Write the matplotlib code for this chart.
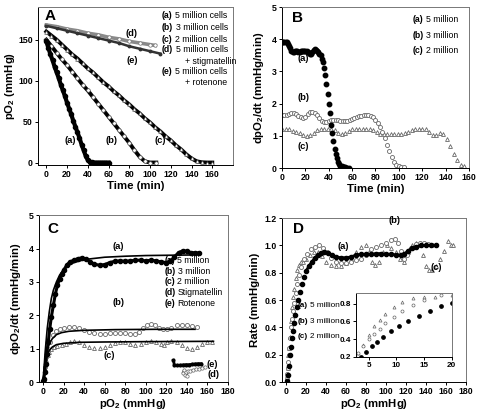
import numpy as np
import matplotlib
matplotlib.use('Agg')
import matplotlib.pyplot as plt

plt.rcParams['font.family'] = ['Liberation Sans', 'DejaVu Sans']
plt.rcParams['mathtext.fontset'] = 'custom'
plt.rcParams['mathtext.rm'] = 'Liberation Sans'
plt.rcParams['mathtext.bf'] = 'Liberation Sans:bold'
plt.rcParams['mathtext.it'] = 'Liberation Sans:italic'

# ---------------- Panel A: pO2 vs time ----------------
tA_a = [0, 2, 4, 6, 8, 10, 12, 14, 16, 18, 20, 22, 24, 26, 28, 30, 32, 34, 36, 38,
        40, 42, 44, 46, 48, 50, 52, 54, 56, 58, 60]
pA_a = [148, 140, 132, 125, 117, 110, 103, 95, 88, 81, 73, 66, 59, 51, 44, 37, 30, 22, 15, 8,
        3, 1, 0.3, 0, 0, 0, 0, 0, 0, 0, 0]
tA_b = [0, 5, 10, 15, 20, 25, 30, 35, 40, 45, 50, 55, 60, 65, 70, 75, 80, 85, 90, 95, 100, 106]
pA_b = [150, 142, 134, 126, 119, 111, 103, 95, 88, 80, 72, 64, 56, 48, 40, 32, 24, 15, 7, 1.5, 0, 0]
tA_c = [0, 5, 10, 15, 20, 25, 30, 35, 40, 45, 50, 55, 60, 65, 70, 75, 80, 85, 90, 95, 100,
        105, 110, 115, 120, 125, 130, 135, 140, 145, 150, 155, 160]
pA_c = [160, 155, 150, 144, 138, 132, 127, 121, 115, 110, 104, 98, 93, 87, 82, 76, 71, 65, 60, 54, 49,
        43, 38, 32, 27, 21, 16, 10, 5, 1.5, 0.3, 0, 0]
tA_d = [0, 10, 20, 30, 40, 50, 60, 70, 80, 90, 100, 105]
pA_d = [168, 166, 163, 161, 158, 156, 153, 151, 148, 146, 144, 143]
tA_e = [0, 10, 20, 30, 40, 50, 60, 70, 80, 90, 100, 110]
pA_e = [167, 164, 161, 158, 155, 152, 149, 146, 142, 139, 136, 133]

# ---------------- Panel B: dpO2/dt vs time ----------------
tB_a = list(range(0, 58))
rB_a = [3.9, 3.9, 3.9, 3.92, 3.9, 3.85, 3.8, 3.72, 3.65, 3.6, 3.6, 3.62, 3.65, 3.63, 3.6, 3.6,
        3.62, 3.65, 3.65, 3.63, 3.62, 3.62, 3.6, 3.57, 3.55, 3.55, 3.6, 3.68, 3.7, 3.68, 3.62,
        3.6, 3.55, 3.5, 3.4, 3.3, 3.1, 2.9, 2.6, 2.3, 2.0, 1.7, 1.35, 1.1, 0.85, 0.6, 0.45,
        0.3, 0.2, 0.13, 0.08, 0.05, 0.03, 0.02, 0.02, 0.01, 0.01, 0.01]
tB_b = list(range(0, 105, 2))
rB_b = [1.65, 1.65, 1.66, 1.68, 1.7, 1.7, 1.68, 1.63, 1.58, 1.55, 1.6, 1.68, 1.73, 1.75, 1.72,
        1.65, 1.55, 1.47, 1.43, 1.43, 1.45, 1.48, 1.5, 1.5, 1.48, 1.46, 1.45, 1.45, 1.47, 1.5,
        1.53, 1.57, 1.6, 1.62, 1.63, 1.64, 1.65, 1.65, 1.63, 1.58, 1.5, 1.4, 1.28, 1.12, 0.92,
        0.72, 0.52, 0.35, 0.2, 0.1, 0.05, 0.03, 0.02]
tB_c = list(range(0, 157, 3))
rB_c = [1.2, 1.22, 1.2, 1.15, 1.12, 1.08, 1.03, 1.0, 1.02, 1.1, 1.18, 1.2, 1.2, 1.2, 1.2, 1.17,
        1.1, 1.05, 1.08, 1.15, 1.2, 1.2, 1.2, 1.2, 1.2, 1.2, 1.18, 1.12, 1.07, 1.05, 1.05, 1.05,
        1.05, 1.05, 1.05, 1.08, 1.12, 1.17, 1.2, 1.22, 1.22, 1.2, 1.12, 1.03, 1.02, 1.08, 1.05,
        0.9, 0.68, 0.45, 0.25, 0.1, 0.05]

# ---------------- Panel C: dpO2/dt vs pO2 ----------------
xC_a = [0.3, 0.8, 1.5, 2.5, 3.5, 5, 6.5, 8, 10, 12, 14, 16, 18, 20, 23, 26, 30, 34, 38, 42, 46,
        50, 55, 60, 65, 70, 75, 80, 85, 90, 95, 100, 105, 110, 115, 120, 124, 128, 132, 136,
        140, 144, 148, 152]
yC_a = [0.02, 0.1, 0.3, 0.55, 0.85, 1.2, 1.6, 1.95, 2.3, 2.65, 2.9, 3.1, 3.25, 3.35, 3.5, 3.6,
        3.65, 3.7, 3.72, 3.68, 3.6, 3.53, 3.5, 3.52, 3.58, 3.62, 3.63, 3.62, 3.63, 3.65, 3.65,
        3.63, 3.65, 3.63, 3.6, 3.58, 3.62, 3.75, 3.88, 3.93, 3.92, 3.88, 3.87, 3.87]
xC_b = [1, 2, 3, 5, 7, 10, 13, 16, 20, 25, 30, 35, 40, 45, 50, 55, 60, 65, 70, 75, 80, 85, 90,
        93, 97, 101, 105, 109, 113, 117, 121, 125, 130, 135, 140, 145, 150]
yC_b = [0.1, 0.45, 0.75, 1.0, 1.2, 1.4, 1.52, 1.6, 1.63, 1.65, 1.65, 1.63, 1.55, 1.5, 1.46, 1.45,
        1.45, 1.47, 1.48, 1.48, 1.46, 1.45, 1.45, 1.5, 1.62, 1.7, 1.75, 1.7, 1.62, 1.6, 1.6,
        1.63, 1.7, 1.72, 1.7, 1.68, 1.66]
xC_c = [1, 2, 3, 4.5, 6, 8, 11, 14, 18, 22, 26, 30, 35, 40, 45, 50, 55, 60, 65, 70, 75, 80, 85,
        90, 95, 100, 105, 110, 115, 118, 121, 125, 130, 135, 140, 145, 150, 155, 160, 165]
yC_c = [0.1, 0.4, 0.65, 0.8, 0.9, 1.0, 1.05, 1.08, 1.1, 1.15, 1.2, 1.22, 1.2, 1.1, 1.05, 1.03,
        1.03, 1.05, 1.1, 1.17, 1.2, 1.2, 1.15, 1.1, 1.15, 1.2, 1.22, 1.2, 1.15, 1.1, 1.2, 1.22,
        1.2, 1.1, 1.02, 1.0, 1.05, 1.15, 1.2, 1.2]
xC_e = [127, 128, 130, 133, 136, 139, 142, 145, 148, 151, 154]
yC_e = [0.65, 0.5, 0.5, 0.5, 0.51, 0.52, 0.52, 0.53, 0.54, 0.55, 0.55]
xC_d = [136, 137, 138, 139, 140, 141, 143, 146, 149, 152, 155, 158]
yC_d = [0.28, 0.35, 0.2, 0.3, 0.18, 0.32, 0.33, 0.36, 0.38, 0.4, 0.42, 0.44]
# fitted curves
fx_a = [0, 2, 4, 6, 8, 10, 13, 16, 20, 25, 30, 40, 60, 80, 100, 125, 152]
fy_a = [0, 0.9, 1.6, 2.1, 2.5, 2.75, 3.0, 3.2, 3.35, 3.5, 3.58, 3.67, 3.74, 3.77, 3.79, 3.8, 3.81]
fx_b = [0, 2, 4, 6, 9, 13, 18, 25, 40, 70, 110, 148]
fy_b = [0, 0.6, 0.95, 1.15, 1.3, 1.42, 1.48, 1.52, 1.55, 1.57, 1.58, 1.58]
fx_c = [0, 2, 4, 6, 9, 13, 20, 35, 60, 100, 166]
fy_c = [0, 0.55, 0.82, 0.95, 1.05, 1.12, 1.16, 1.19, 1.2, 1.21, 1.22]

# ---------------- Panel D: normalised rate vs pO2 ----------------
xD_a = [0.5, 1.5, 2.5, 3.5, 4.5, 5.5, 6.5, 7.5, 9, 10.5, 12, 14, 16, 18, 20, 23, 26, 29, 32, 35,
        38, 42, 46, 50, 55, 60, 65, 70, 75, 80, 85, 90, 95, 100, 105, 110, 115, 118, 122, 126,
        130, 135, 140, 145, 150]
yD_a = [0.01, 0.05, 0.12, 0.2, 0.26, 0.32, 0.37, 0.43, 0.49, 0.55, 0.6, 0.66, 0.72, 0.77, 0.81,
        0.85, 0.88, 0.91, 0.93, 0.945, 0.95, 0.945, 0.93, 0.915, 0.91, 0.91, 0.915, 0.93, 0.935,
        0.935, 0.935, 0.94, 0.94, 0.935, 0.935, 0.93, 0.93, 0.935, 0.96, 0.98, 0.99, 1.0, 1.0,
        1.0, 1.0]
xD_b = [0.5, 1, 1.5, 2, 2.5, 3, 4, 5, 6, 7, 8, 9.5, 11, 13, 15, 18, 21, 25, 29, 33, 37, 41, 45,
        50, 55, 60, 65, 70, 75, 80, 85, 90, 95, 100, 105, 109, 112, 115, 118, 121, 125, 130,
        134, 138, 142, 146, 150]
yD_b = [0.02, 0.06, 0.1, 0.15, 0.2, 0.25, 0.32, 0.4, 0.46, 0.52, 0.58, 0.65, 0.72, 0.78, 0.84,
        0.9, 0.94, 0.97, 0.99, 1.0, 0.98, 0.95, 0.91, 0.88, 0.87, 0.87, 0.88, 0.89, 0.9, 0.93,
        0.97, 0.99, 1.0, 1.02, 1.04, 1.05, 1.02, 0.96, 0.9, 0.93, 0.98, 1.01, 1.02, 1.02, 1.01,
        1.0, 1.0]
xD_c = [0.5, 1, 1.5, 2, 3, 4, 5, 6, 7, 8, 9.5, 11, 13, 15, 17, 20, 24, 28, 32, 36, 40, 45, 50,
        55, 60, 65, 70, 75, 80, 83, 86, 89, 93, 97, 101, 105, 110, 114, 118, 122, 126, 130, 134,
        137, 140, 143, 146, 150, 154, 158, 162, 165, 167]
yD_c = [0.01, 0.05, 0.1, 0.2, 0.25, 0.33, 0.45, 0.55, 0.62, 0.68, 0.76, 0.82, 0.86, 0.88, 0.88,
        0.9, 0.93, 0.95, 0.95, 0.92, 0.88, 0.86, 0.85, 0.85, 0.87, 0.9, 0.95, 0.99, 1.0, 0.95,
        0.88, 0.86, 0.88, 0.95, 1.0, 0.98, 0.95, 0.9, 0.88, 0.95, 1.0, 1.02, 1.0, 0.93, 0.85,
        0.82, 0.82, 0.85, 0.9, 0.96, 1.03, 1.0, 1.0]

bold = dict(fontweight='bold')
tick_fs = 6.3
lab_fs = 8.2
txt_fs = 6.3
grey = '#666666'


def style(ax, fs=tick_fs):
    ax.tick_params(direction='out', length=2.2, width=0.7, labelsize=fs, pad=1.5)
    for lbl in ax.get_xticklabels() + ax.get_yticklabels():
        lbl.set_fontweight('bold')
    for s in ax.spines.values():
        s.set_linewidth(0.7)
    ax.spines['top'].set_color('#777777')
    ax.spines['right'].set_color('#777777')


def entry(ax, x, y, tag, rest, coords='axes', fs=txt_fs):
    # bold tag followed by regular description
    tr = ax.transAxes if coords == 'axes' else ax.transData
    t = ax.text(x, y, tag, fontsize=fs, transform=tr, ha='left', va='center', **bold)
    ax.annotate(rest, xy=(1, 0), xycoords=t, xytext=(1.6, 0), textcoords='offset points',
                fontsize=fs, ha='left', va='bottom')


fig = plt.figure(figsize=(4.78, 4.13), dpi=100)

# ----- A -----
axA = fig.add_axes([0.0795, 0.6005, 0.408, 0.3826])
axA.plot(tA_d, pA_d, color='#8a8a8a', lw=2.6, marker='o', ms=2.5, mfc='white', mec='#777777', mew=0.5)
axA.plot(tA_e, pA_e, color='#333333', lw=1.8, marker='o', ms=1.8, mfc='#333333', mec='#333333')
axA.plot(tA_c, pA_c, color='black', lw=2.8, marker='^', ms=2.6, mfc='white', mec='#555555', mew=0.5)
axA.plot(tA_b, pA_b, color='black', lw=2.8, marker='o', ms=2.6, mfc='white', mec='#555555', mew=0.5)
axA.plot(tA_a, pA_a, color='black', lw=3.0, marker='o', ms=3, mfc='black', mec='black')
axA.set_xlim(-8, 180)
axA.set_ylim(-3, 190)
axA.set_xticks([0, 20, 40, 60, 80, 100, 120, 140, 160])
axA.set_yticks([0, 50, 100, 150])
axA.set_xlabel('Time (min)', fontsize=lab_fs, labelpad=1, **bold)
axA.set_ylabel(r'pO$_\mathbf{2}$ (mmHg)', fontsize=lab_fs, labelpad=1, **bold)
style(axA)
axA.text(0.035, 0.985, 'A', transform=axA.transAxes, fontsize=11, va='top', **bold)
for x, y, s in [(23, 27, '(a)'), (63, 27, '(b)'), (110, 27, '(c)'), (82, 157, '(d)'), (83, 125, '(e)')]:
    axA.text(x, y, s, fontsize=txt_fs + 0.5, ha='center', va='center', **bold)
legA = [('(a)', '5 million cells'), ('(b)', '3 million cells'), ('(c)', '2 million cells'),
        ('(d)', '5 million cells'), None, ('(e)', '5 million cells'), None]
ys = [0.943, 0.873, 0.797, 0.728, 0.658, 0.589, 0.519]
for i, item in enumerate(legA):
    if item is not None:
        entry(axA, 0.636, ys[i], item[0], item[1])
axA.text(0.754, ys[4], '+ stigmatellin', transform=axA.transAxes, fontsize=txt_fs, va='center')
axA.text(0.754, ys[6], '+ rotenone', transform=axA.transAxes, fontsize=txt_fs, va='center')

# ----- B -----
axB = fig.add_axes([0.59, 0.593, 0.391, 0.39])
axB.plot(tB_c, rB_c, ls='none', marker='^', ms=2.8, mfc='white', mec=grey, mew=0.6)
axB.plot(tB_b, rB_b, ls='none', marker='o', ms=2.9, mfc='white', mec=grey, mew=0.6)
axB.plot(tB_a, rB_a, ls='none', marker='o', ms=3.2, mfc='black', mec='black')
axB.set_xlim(0, 160)
axB.set_ylim(0, 5)
axB.set_xticks([0, 20, 40, 60, 80, 100, 120, 140, 160])
axB.set_yticks([0, 1, 2, 3, 4, 5])
axB.set_xlabel('Time (min)', fontsize=lab_fs, labelpad=1, **bold)
axB.set_ylabel(r'dpO$_\mathbf{2}$/dt (mmHg/min)', fontsize=lab_fs, labelpad=4, **bold)
style(axB)
axB.text(0.055, 0.975, 'B', transform=axB.transAxes, fontsize=11, va='top', **bold)
for x, y, s in [(18, 3.4, '(a)'), (18, 2.2, '(b)'), (18, 0.66, '(c)')]:
    axB.text(x, y, s, fontsize=txt_fs + 0.5, ha='center', va='center', **bold)
for y, tag, rest in [(0.925, '(a)', '5 million'), (0.826, '(b)', '3 million'), (0.727, '(c)', '2 million')]:
    entry(axB, 0.70, y, tag, rest)

# ----- C -----
axC = fig.add_axes([0.0816, 0.075, 0.395, 0.404])
axC.plot(xC_c, yC_c, ls='none', marker='^', ms=2.8, mfc='white', mec=grey, mew=0.6)
axC.plot(xC_b, yC_b, ls='none', marker='o', ms=2.9, mfc='white', mec=grey, mew=0.6)
axC.plot(xC_a, yC_a, color='black', lw=2.2, marker='o', ms=3, mfc='black', mec='black')
axC.plot(xC_d, yC_d, color='#555555', lw=1.2, marker='o', ms=2.4, mfc='white', mec=grey, mew=0.5)
axC.plot(xC_e, yC_e, color='black', lw=2.0, marker='o', ms=2, mfc='black', mec='black')
axC.plot(fx_a, fy_a, color='black', lw=1.2)
axC.plot(fx_b, fy_b, color='black', lw=1.2)
axC.plot(fx_c, fy_c, color='black', lw=1.2)
axC.set_xlim(-4, 180)
axC.set_ylim(0, 5)
axC.set_xticks([0, 20, 40, 60, 80, 100, 120, 140, 160, 180])
axC.set_yticks([0, 1, 2, 3, 4, 5])
axC.set_xlabel(r'pO$_\mathbf{2}$ (mmHg)', fontsize=lab_fs, labelpad=0.5, **bold)
axC.set_ylabel(r'dpO$_\mathbf{2}$/dt (mmHg/min)', fontsize=lab_fs, labelpad=4, **bold)
style(axC)
axC.text(0.045, 0.96, 'C', transform=axC.transAxes, fontsize=11, va='top', **bold)
for x, y, s in [(73, 4.05, '(a)'), (73, 2.37, '(b)'), (64, 0.8, '(c)'), (165, 0.52, '(e)'), (166, 0.24, '(d)')]:
    axC.text(x, y, s, fontsize=txt_fs + 0.5, ha='center', va='center', **bold)
for y, tag, rest in [(3.65, '(a)', '5 million'), (3.32, '(b)', '3 million'), (3.0, '(c)', '2 million'),
                     (2.68, '(d)', 'Stigmatellin'), (2.35, '(e)', 'Rotenone')]:
    entry(axC, 118, y, tag, rest, coords='data')

# ----- D -----
axD = fig.add_axes([0.59, 0.075, 0.385, 0.397])
axD.plot(xD_c, yD_c, ls='none', marker='^', ms=2.8, mfc='white', mec=grey, mew=0.6)
axD.plot(xD_b, yD_b, ls='none', marker='o', ms=2.9, mfc='white', mec=grey, mew=0.6)
axD.plot(xD_a[14:], yD_a[14:], color='black', lw=2.0)
axD.plot(xD_a, yD_a, ls='none', marker='o', ms=3.0, mfc='black', mec='black')
axD.set_xlim(-4, 180)
axD.set_ylim(0, 1.2)
axD.set_xticks([0, 20, 40, 60, 80, 100, 120, 140, 160, 180])
axD.set_yticks([0.0, 0.2, 0.4, 0.6, 0.8, 1.0, 1.2])
axD.yaxis.set_major_formatter(matplotlib.ticker.FormatStrFormatter('%.1f'))
axD.set_xlabel(r'pO$_\mathbf{2}$ (mmHg)', fontsize=lab_fs, labelpad=0.5, **bold)
axD.set_ylabel('Rate (mmHg/min)', fontsize=lab_fs, labelpad=3, **bold)
style(axD)
axD.text(0.06, 0.975, 'D', transform=axD.transAxes, fontsize=11, va='top', **bold)
for x, y, s in [(57, 0.99, '(a)'), (108, 1.18, '(b)'), (150, 0.84, '(c)')]:
    axD.text(x, y, s, fontsize=txt_fs + 0.5, ha='center', va='center', **bold)
for y, tag, rest in [(0.56, '(a)', '5 million'), (0.44, '(b)', '3 million'), (0.33, '(c)', '2 million')]:
    entry(axD, 11.5, y, tag, rest, coords='data', fs=5.9)

# inset of D
axI = fig.add_axes([0.745, 0.1356, 0.2, 0.155])
axI.plot(xD_c, yD_c, ls='none', marker='^', ms=2.2, mfc='white', mec=grey, mew=0.5)
axI.plot(xD_b, yD_b, ls='none', marker='o', ms=2.2, mfc='white', mec=grey, mew=0.5)
axI.plot(xD_a, yD_a, ls='none', marker='o', ms=2.4, mfc='black', mec='black')
axI.set_xlim(2.7, 20)
axI.set_ylim(0.2, 0.92)
axI.set_xticks([5, 10, 15, 20])
axI.set_yticks([0.2, 0.4, 0.6, 0.8])
style(axI, fs=5.9)

fig.savefig('out.png', dpi=100)
